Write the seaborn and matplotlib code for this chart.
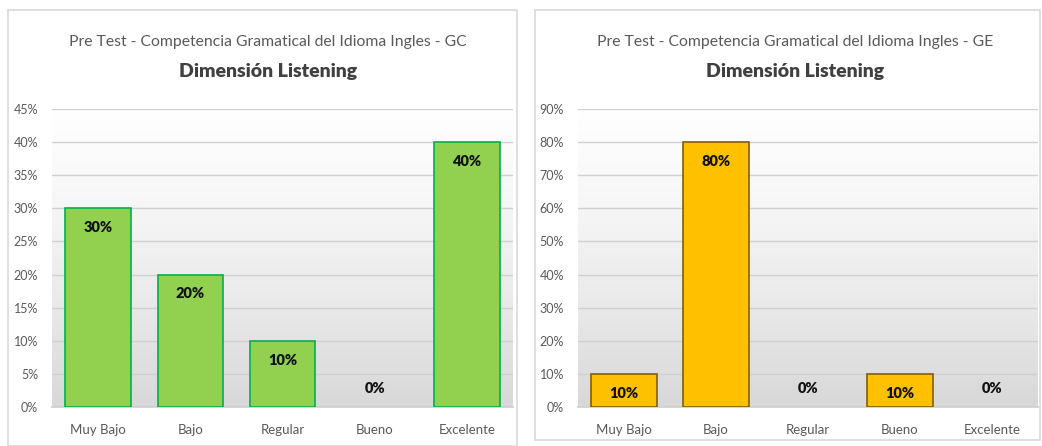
import numpy as np
import pandas as pd
import matplotlib
matplotlib.use("Agg")
import matplotlib.pyplot as plt
import seaborn as sns
from matplotlib.patches import Rectangle
from matplotlib.ticker import PercentFormatter, MultipleLocator
from matplotlib.colors import LinearSegmentedColormap

categories = ["Muy Bajo", "Bajo", "Regular", "Bueno", "Excelente"]
gc_values = [30, 20, 10, 0, 40]
ge_values = [10, 80, 0, 10, 0]
title_gc = "Pre Test - Competencia Gramatical del Idioma Ingles - GC"
title_ge = "Pre Test - Competencia Gramatical del Idioma Ingles - GE"
subtitle = "Dimensión Listening"

sns.set_theme(style="white")
plt.rcParams["font.family"] = ["Lato", "DejaVu Sans"]

fig = plt.figure(figsize=(10.42, 4.46), dpi=100)
W, H = 1042, 446

# panel borders
fig.patches.append(Rectangle((8 / W, 0), 509 / W, (H - 10) / H, transform=fig.transFigure,
                             fill=False, edgecolor="#d9d9d9", linewidth=1.2))
fig.patches.append(Rectangle((535 / W, 6 / H), 505 / W, (H - 16) / H, transform=fig.transFigure,
                             fill=False, edgecolor="#d9d9d9", linewidth=1.2))

bottom = (H - 407) / H
height = 298 / H
ax1 = fig.add_axes([52 / W, bottom, 461 / W, height])
ax2 = fig.add_axes([578 / W, bottom, 460 / W, height])

grad = np.linspace(0, 1, 256).reshape(-1, 1)
cmap = LinearSegmentedColormap.from_list("g", ["#ffffff", "#f6f6f6", "#e9e9e9", "#d8d8d8"])


def draw(ax, values, ymax, step, face, edge, title, cx):
    df = pd.DataFrame({"cat": categories, "val": values})
    ax.imshow(grad, extent=[0, 1, 0, 1], transform=ax.transAxes, aspect="auto",
              cmap=cmap, zorder=0, vmin=0, vmax=1)
    sns.barplot(data=df, x="cat", y="val", ax=ax, color=face, width=0.71,
                edgecolor=edge, linewidth=1.2, saturation=1, zorder=3)
    for p in ax.patches:
        if p.get_height() == 0:
            p.set_visible(False)
    ax.set_ylim(0, ymax)
    ax.set_xlim(-0.5, 4.5)
    ax.yaxis.set_major_locator(MultipleLocator(step))
    ax.yaxis.set_major_formatter(PercentFormatter(decimals=0))
    ax.grid(axis="y", color="#d0d0d0", linewidth=1, zorder=1)
    ax.set_axisbelow(True)
    for s in ["top", "right", "left"]:
        ax.spines[s].set_visible(False)
    ax.spines["bottom"].set_color("#d0d0d0")
    ax.set_xlabel("")
    ax.set_ylabel("")
    ax.tick_params(axis="y", labelsize=9, labelcolor="#595959", length=0, pad=10)
    ax.tick_params(axis="x", labelsize=9.5, labelcolor="#595959", length=0, pad=12)
    for i, v in enumerate(values):
        off = -14 if v > 0 else 13
        ax.annotate(f"{v}%", (i, v), xytext=(0, off), textcoords="offset points",
                    ha="center", va="center", fontsize=10.5, fontweight="heavy",
                    color="#111111", zorder=5)
    fig.text(cx / W, (H - 42) / H, title, ha="center", va="center",
             fontsize=11.3, color="#595959")
    fig.text(cx / W, (H - 72) / H, subtitle, ha="center", va="center",
             fontsize=14, fontweight="heavy", color="#404040")


draw(ax1, gc_values, 45, 5, "#92D050", "#00B050", title_gc, 268)
draw(ax2, ge_values, 90, 10, "#FFC000", "#7F6000", title_ge, 795)

fig.savefig("out.png", dpi=100, facecolor="white")
